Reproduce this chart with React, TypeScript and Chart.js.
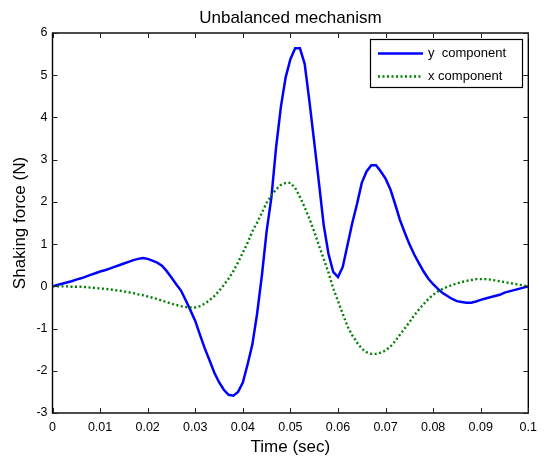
import React, { useEffect, useRef } from 'react';
import Chart from 'chart.js/auto';

const timeSec = [
  0, 0.001, 0.002, 0.003, 0.004, 0.005, 0.006, 0.007, 0.008, 0.009,
  0.01, 0.011, 0.012, 0.013, 0.014, 0.015, 0.016, 0.017, 0.018, 0.019,
  0.02, 0.021, 0.022, 0.023, 0.024, 0.025, 0.026, 0.027, 0.028, 0.029,
  0.03, 0.031, 0.032, 0.033, 0.034, 0.035, 0.036, 0.037, 0.038, 0.039,
  0.04, 0.041, 0.042, 0.043, 0.044, 0.045, 0.046, 0.047, 0.048, 0.049,
  0.05, 0.051, 0.052, 0.053, 0.054, 0.055, 0.056, 0.057, 0.058, 0.059,
  0.06, 0.061, 0.062, 0.063, 0.064, 0.065, 0.066, 0.067, 0.068, 0.069,
  0.07, 0.071, 0.072, 0.073, 0.074, 0.075, 0.076, 0.077, 0.078, 0.079,
  0.08, 0.081, 0.082, 0.083, 0.084, 0.085, 0.086, 0.087, 0.088, 0.089,
  0.09, 0.091, 0.092, 0.093, 0.094, 0.095, 0.096, 0.097, 0.098, 0.099,
  0.1,
];

const yComponent = [
  0, 0.03, 0.06, 0.09, 0.12, 0.16, 0.19, 0.23, 0.27, 0.31,
  0.35, 0.38, 0.42, 0.46, 0.5, 0.54, 0.58, 0.62, 0.65, 0.67,
  0.65, 0.61, 0.56, 0.49, 0.36, 0.21, 0.05, -0.1, -0.33, -0.57,
  -0.82, -1.15, -1.47, -1.75, -2.04, -2.27, -2.45, -2.57, -2.59, -2.5,
  -2.28, -1.85, -1.38, -0.65, 0.25, 1.3, 2.1, 3.3, 4.25, 4.95,
  5.38, 5.64, 5.64, 5.27, 4.38, 3.42, 2.45, 1.45, 0.77, 0.34,
  0.22, 0.46, 0.98, 1.5, 1.95, 2.45, 2.72, 2.87, 2.87, 2.72,
  2.55, 2.3, 1.95, 1.58, 1.28, 1.0, 0.76, 0.55, 0.35, 0.18,
  0.05, -0.06, -0.16, -0.23, -0.3, -0.35, -0.37, -0.39, -0.39, -0.36,
  -0.32, -0.29, -0.26, -0.23, -0.2, -0.15, -0.12, -0.09, -0.06, -0.03,
  0,
];

const xComponent = [
  0, 0, 0, 0, -0.01, -0.01, -0.01, -0.02, -0.03, -0.04,
  -0.05, -0.06, -0.07, -0.09, -0.1, -0.12, -0.14, -0.16, -0.19, -0.21,
  -0.24, -0.27, -0.3, -0.34, -0.37, -0.41, -0.44, -0.47, -0.49, -0.5,
  -0.5, -0.47, -0.41, -0.33, -0.23, -0.11, 0.03, 0.18, 0.36, 0.57,
  0.8, 1.03, 1.3, 1.51, 1.74, 1.98, 2.15, 2.3, 2.4, 2.45,
  2.45, 2.33, 2.12, 1.87, 1.6, 1.3, 0.97, 0.65, 0.33, -0.05,
  -0.35, -0.65, -0.95, -1.16, -1.33, -1.48, -1.56, -1.6, -1.6, -1.57,
  -1.52, -1.43, -1.3, -1.15, -1.0, -0.85, -0.69, -0.55, -0.42, -0.3,
  -0.2, -0.12, -0.06, -0.01, 0.03, 0.07, 0.1, 0.13, 0.15, 0.17,
  0.17, 0.17, 0.16, 0.14, 0.12, 0.1, 0.08, 0.06, 0.04, 0.02,
  0,
];

const xTickValues = [0, 0.01, 0.02, 0.03, 0.04, 0.05, 0.06, 0.07, 0.08, 0.09, 0.1];
const xTickLabels = ['0', '0.01', '0.02', '0.03', '0.04', '0.05', '0.06', '0.07', '0.08', '0.09', '0.1'];
const yTickValues = [-3, -2, -1, 0, 1, 2, 3, 4, 5, 6];
const yTickLabels = ['-3', '-2', '-1', '0', '1', '2', '3', '4', '5', '6'];

const titleText = 'Unbalanced mechanism';
const xAxisTitle = 'Time (sec)';
const yAxisTitle = 'Shaking force (N)';
const seriesLabels = ['y  component', 'x component'];

const FONT = '"Liberation Sans", Arial, Helvetica, sans-serif';

const decorPlugin = {
  id: 'matlabDecor',
  afterDraw(chart: any) {
    const { ctx, chartArea } = chart;
    const { left, right, top, bottom } = chartArea;
    const xs = chart.scales.x;
    const ys = chart.scales.y;
    ctx.save();
    // box
    ctx.strokeStyle = '#000';
    ctx.lineWidth = 1.4;
    ctx.strokeRect(left, top, right - left, bottom - top);
    // inward ticks
    ctx.lineWidth = 1;
    ctx.strokeStyle = '#222';
    const tl = 5;
    ctx.beginPath();
    xTickValues.forEach((v) => {
      const px = Math.round(xs.getPixelForValue(v)) + 0.5;
      ctx.moveTo(px, bottom);
      ctx.lineTo(px, bottom - tl);
      ctx.moveTo(px, top);
      ctx.lineTo(px, top + tl);
    });
    yTickValues.forEach((v) => {
      const py = Math.round(ys.getPixelForValue(v)) + 0.5;
      ctx.moveTo(left, py);
      ctx.lineTo(left + tl, py);
      ctx.moveTo(right, py);
      ctx.lineTo(right - tl, py);
    });
    ctx.stroke();

    // title
    ctx.fillStyle = '#000';
    ctx.font = `17px ${FONT}`;
    ctx.textAlign = 'center';
    ctx.textBaseline = 'alphabetic';
    ctx.fillText(titleText, (left + right) / 2, 22.5);
    // x axis title
    ctx.fillText(xAxisTitle, (left + right) / 2, 452);
    // y axis title
    ctx.save();
    ctx.translate(25, (top + bottom) / 2);
    ctx.rotate(-Math.PI / 2);
    ctx.fillText(yAxisTitle, 0, 0);
    ctx.restore();

    // legend
    const lx = 370, ly = 39, lw = 152, lh = 48;
    ctx.fillStyle = '#fff';
    ctx.fillRect(lx, ly, lw, lh);
    ctx.strokeStyle = '#000';
    ctx.lineWidth = 1.2;
    ctx.strokeRect(lx + 0.5, ly + 0.5, lw, lh);
    const rows = [53.5, 76.5];
    chart.data.datasets.forEach((ds: any, i: number) => {
      const yy = rows[i];
      ctx.save();
      ctx.strokeStyle = ds.borderColor;
      ctx.lineWidth = ds.borderWidth;
      ctx.setLineDash(ds.borderDash || []);
      ctx.beginPath();
      ctx.moveTo(378, yy);
      ctx.lineTo(423, yy);
      ctx.stroke();
      ctx.restore();
      ctx.fillStyle = '#000';
      ctx.font = `13px ${FONT}`;
      ctx.textAlign = 'left';
      ctx.textBaseline = 'middle';
      ctx.fillText(ds.label, 428, yy);
    });
    ctx.restore();
  },
};

export default function App() {
  const canvasRef = useRef<HTMLCanvasElement | null>(null);

  useEffect(() => {
    const canvas = canvasRef.current;
    if (!canvas) return;
    const chart = new Chart(canvas, {
      type: 'line',
      data: {
        datasets: [
          {
            label: seriesLabels[0],
            data: timeSec.map((t, i) => ({ x: t, y: yComponent[i] })),
            borderColor: '#0000ff',
            borderWidth: 2.5,
            pointRadius: 0,
            tension: 0,
            fill: false,
            order: 1,
          },
          {
            label: seriesLabels[1],
            data: timeSec.map((t, i) => ({ x: t, y: xComponent[i] })),
            borderColor: '#008000',
            borderWidth: 2.4,
            borderDash: [2, 2.5],
            borderCapStyle: 'butt',
            pointRadius: 0,
            tension: 0,
            fill: false,
            order: 0,
          },
        ],
      },
      options: {
        responsive: false,
        animation: false,
        events: [],
        layout: { padding: { left: 0, right: 11.5, top: 33, bottom: 0 } },
        plugins: {
          legend: { display: false },
          title: { display: false },
          tooltip: { enabled: false },
        },
        scales: {
          x: {
            type: 'linear',
            min: 0,
            max: 0.1,
            grid: { display: false, drawTicks: false },
            border: { display: false },
            afterBuildTicks: (scale: any) => {
              scale.ticks = xTickValues.map((v) => ({ value: v }));
            },
            afterFit: (scale: any) => {
              scale.height = 46;
            },
            ticks: {
              autoSkip: false,
              maxRotation: 0,
              minRotation: 0,
              padding: 7,
              color: '#000',
              font: { family: FONT, size: 12.5 },
              callback: (_v: any, i: number) => xTickLabels[i],
            },
          },
          y: {
            type: 'linear',
            min: -3,
            max: 6,
            grid: { display: false, drawTicks: false },
            border: { display: false },
            afterBuildTicks: (scale: any) => {
              scale.ticks = yTickValues.map((v) => ({ value: v }));
            },
            afterFit: (scale: any) => {
              scale.width = 52.5;
            },
            ticks: {
              autoSkip: false,
              padding: 5,
              color: '#000',
              font: { family: FONT, size: 12.5 },
              callback: (_v: any, i: number) => yTickLabels[i],
            },
          },
        },
      },
      plugins: [decorPlugin],
    });
    return () => chart.destroy();
  }, []);

  return (
    <div style={{ position: 'absolute', left: 0, top: 0, width: 544, height: 459, background: '#fff' }}>
      <canvas ref={canvasRef} width={544} height={459} style={{ display: 'block' }} />
    </div>
  );
}
